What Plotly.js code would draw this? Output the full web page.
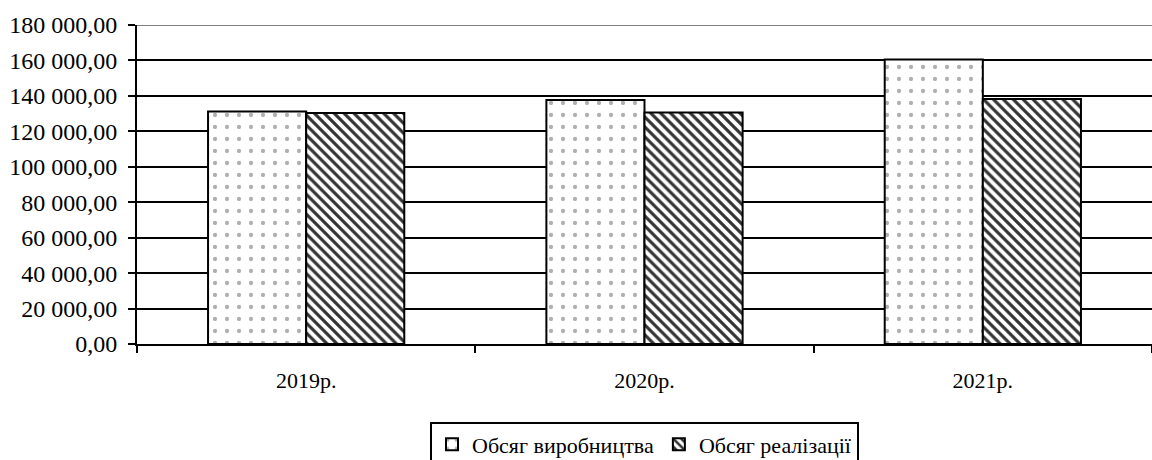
<!DOCTYPE html>
<html>
<head>
<meta charset="utf-8">
<script src="https://cdn.plot.ly/plotly-3.0.1.min.js"></script>
<style>html,body{margin:0;padding:0;background:#fff;}#chart{width:1152px;height:460px;}</style>
</head>
<body>
<div id="chart"></div>
<script>
const categories = ["2019р.", "2020р.", "2021р."];
const seriesNames = ["Обсяг виробництва", "Обсяг реалізації"];
const production = [131200, 137700, 160500];
const sales = [130400, 130600, 138200];
const yTicks = [0, 20000, 40000, 60000, 80000, 100000, 120000, 140000, 160000, 180000];

const font = "Times New Roman";

const traces = [
  {
    type: "bar", name: seriesNames[0], x: categories, y: production,
    marker: {
      color: "#ffffff",
      line: {color: "#000000", width: 2},
      pattern: {shape: ".", fgcolor: "#b0b0b0", bgcolor: "#ffffff", size: 12, solidity: 0.1}
    },
    hoverinfo: "skip"
  },
  {
    type: "bar", name: seriesNames[1], x: categories, y: sales,
    marker: {
      color: "#ffffff",
      line: {color: "#000000", width: 2},
      pattern: {shape: "\\", fgcolor: "#333333", bgcolor: "#ffffff", size: 7, solidity: 0.45}
    },
    hoverinfo: "skip"
  }
];

const layout = {
  width: 1152, height: 460,
  margin: {l: 137, r: 0, t: 25, b: 116, autoexpand: false},
  paper_bgcolor: "#ffffff", plot_bgcolor: "#ffffff",
  separators: ", ",
  barmode: "group",
  bargap: 0.42,
  bargroupgap: 0,
  showlegend: true,
  font: {family: font, size: 22, color: "#000000"},
  xaxis: {
    type: "category", automargin: false,
    showline: true, linecolor: "#000000", linewidth: 2,
    ticks: "outside", tickson: "boundaries", ticklen: 7, tickwidth: 2, tickcolor: "#000000",
    ticklabelstandoff: 16,
    showgrid: false, zeroline: false,
    tickfont: {family: font, size: 22, color: "#000000"}
  },
  yaxis: {
    range: [0, 180000], automargin: false,
    tickvals: yTicks,
    tickformat: ",.2f",
    showline: true, linecolor: "#000000", linewidth: 2,
    ticks: "outside", ticklen: 7, tickwidth: 2, tickcolor: "#000000",
    ticklabelstandoff: 6,
    showgrid: true, gridcolor: "#000000", gridwidth: 2,
    zeroline: false,
    tickfont: {family: font, size: 24, color: "#000000"}
  },
  shapes: [
    {type: "line", xref: "paper", yref: "y", x0: 0, x1: 1, y0: yTicks[yTicks.length - 1], y1: yTicks[yTicks.length - 1],
     line: {color: "#808080", width: 2}, layer: "above"}
  ],
  legend: {
    orientation: "h",
    x: 0.5, xanchor: "center",
    y: -0.243, yanchor: "top",
    bordercolor: "#000000", borderwidth: 2,
    bgcolor: "#ffffff",
    font: {family: font, size: 22, color: "#000000"},
    itemwidth: 30,
    traceorder: "normal"
  }
};

Plotly.newPlot("chart", traces, layout, {staticPlot: true, displayModeBar: false});
</script>
</body>
</html>
